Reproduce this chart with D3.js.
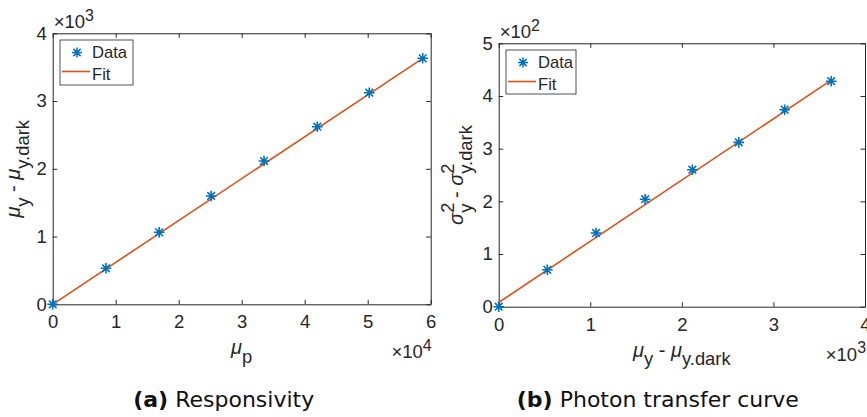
<!DOCTYPE html>
<html>
<head>
<meta charset="utf-8">
<script src="https://cdn.jsdelivr.net/npm/d3@7"></script>
<style>
  html, body { margin: 0; padding: 0; background: #fff; }
  svg { display: block; }
</style>
</head>
<body>
<svg id="fig" width="867" height="417"></svg>
<script>
// ---- data -------------------------------------------------------------
// (a) responsivity: mean photons per pixel vs. dark-corrected mean signal
const muP     = [0, 8460, 16900, 25150, 33540, 42000, 50250, 58730];
const muYDark = [0, 531, 1063, 1599, 2115, 2621, 3123, 3631];
// (b) photon transfer: dark-corrected variance vs. dark-corrected mean
const varYDark = [0, 70, 140, 204, 260, 312, 374, 428];
// fitted straight lines (end points)
const fitAx = [0, 58730], fitAy = [0, 3631];
const fitBx = [0, 3631],  fitBy = [8, 430];
// axis ticks (in scaled units) and their exponents
const ticksAx = [0, 1, 2, 3, 4, 5, 6],  expAx = 4;
const ticksAy = [0, 1, 2, 3, 4],        expAy = 3;
const ticksBx = [0, 1, 2, 3, 4],        expBx = 3;
const ticksBy = [0, 1, 2, 3, 4, 5],     expBy = 2;
const legendLabels = ["Data", "Fit"];

// ---- style ------------------------------------------------------------
const C_DATA = "#0072BD", C_FIT = "#D95319", C_AX = "#262626";
const FONT = '"Liberation Sans", Arial, sans-serif';
const FS_TICK = 18.5, FS_LEG = 16.6, FS_LAB = 20;
const TICK = 4.5;

const svg = d3.select("#fig");

function starPath(r) {
  const d = r * 0.72;
  return `M${-r},0L${r},0M0,${-r}L0,${r}M${-d},${-d}L${d},${d}M${-d},${d}L${d},${-d}`;
}

// rich text: parts = [[text, kind, italic?], ...]; kind: n | sub | sup | subStack
// (subStack sits under the preceding superscript)
function rich(g, parts, size, subScale, shifts) {
  const t = g.append("text").attr("font-family", FONT).attr("font-size", size).attr("fill", C_AX);
  let shift = 0, lastSup = null;
  parts.forEach(([s, kind, it]) => {
    const target = kind === "n" ? 0 : kind === "sup" ? -shifts.sup : shifts.sub;
    const ts = t.append("tspan").text(s).attr("dy", target - shift);
    if (kind !== "n") ts.attr("font-size", size * subScale);
    if (it) ts.attr("font-style", "italic");
    if (kind === "subStack" && lastSup) ts.attr("dx", -lastSup.node().getComputedTextLength());
    lastSup = kind === "sup" ? ts : null;
    shift = target;
  });
  return t;
}

function panel(o) {
  const x = d3.scaleLinear([0, o.xTicks[o.xTicks.length - 1] * 10 ** o.xExp], [o.x0, o.x1]);
  const y = d3.scaleLinear([0, o.yTicks[o.yTicks.length - 1] * 10 ** o.yExp], [o.y1, o.y0]);
  const xt = o.xTicks.map(v => v * 10 ** o.xExp), yt = o.yTicks.map(v => v * 10 ** o.yExp);
  const g = svg.append("g");

  const fmtX = v => String(Math.round(v / 10 ** o.xExp));
  const fmtY = v => String(Math.round(v / 10 ** o.yExp));

  const axes = [
    [d3.axisBottom(x).tickValues(xt).tickFormat(fmtX).tickPadding(11), 0, o.y1],
    [d3.axisTop(x).tickValues(xt).tickFormat(""), 0, o.y0],
    [d3.axisLeft(y).tickValues(yt).tickFormat(fmtY).tickPadding(6), o.x0, 0],
    [d3.axisRight(y).tickValues(yt).tickFormat(""), o.x1, 0]
  ];
  axes.forEach(([ax, tx, ty]) => {
    const a = g.append("g").attr("transform", `translate(${tx},${ty})`)
      .call(ax.tickSizeInner(-TICK).tickSizeOuter(0));
    a.attr("font-family", FONT).attr("font-size", FS_TICK);
    a.select(".domain").attr("stroke", C_AX);
    a.selectAll(".tick line").attr("stroke", C_AX);
    a.selectAll(".tick text").attr("fill", C_AX);
  });

  // fit line and data markers
  g.append("line")
    .attr("x1", x(o.fitX[0])).attr("y1", y(o.fitY[0]))
    .attr("x2", x(o.fitX[1])).attr("y2", y(o.fitY[1]))
    .attr("stroke", C_FIT).attr("stroke-width", 1.6);
  g.selectAll(".pt").data(o.px.map((v, i) => [v, o.py[i]])).join("path")
    .attr("transform", d => `translate(${x(d[0])},${y(d[1])})`)
    .attr("d", starPath(5.3)).attr("stroke", C_DATA).attr("stroke-width", 1.6).attr("fill", "none");

  // legend
  const L = o.legend;
  g.append("rect").attr("x", L.x).attr("y", L.y).attr("width", L.w).attr("height", L.h)
    .attr("fill", "#fff").attr("stroke", C_AX).attr("stroke-width", 0.8);
  g.append("path").attr("transform", `translate(${L.x + 17},${L.y + 12.5})`)
    .attr("d", starPath(5)).attr("stroke", C_DATA).attr("stroke-width", 1.5).attr("fill", "none");
  g.append("line").attr("x1", L.x + 2).attr("x2", L.x + 30).attr("y1", L.y + 31.5).attr("y2", L.y + 31.5)
    .attr("stroke", C_FIT).attr("stroke-width", 1.6);
  legendLabels.forEach((s, i) => {
    g.append("text").attr("x", L.x + 32).attr("y", L.y + 18 + i * 21.5).text(s)
      .attr("font-family", FONT).attr("font-size", FS_LEG).attr("fill", C_AX);
  });

  // exponent labels
  const expShift = { sup: 7.5, sub: 0 };
  rich(g, [["\u00d710", "n"], [String(o.yExp), "sup"]], FS_TICK, 0.86, expShift)
    .attr("x", o.x0 + 1).attr("y", o.y0 - 5);
  rich(g, [["\u00d710", "n"], [String(o.xExp), "sup"]], FS_TICK, 0.86, expShift)
    .attr("x", o.x1 + 1).attr("y", o.y1 + 54).attr("text-anchor", "end");

  // axis titles
  const labShift = { sup: 9, sub: 8.5 };
  rich(g, o.xLabel, FS_LAB, 0.92, labShift).attr("x", (o.x0 + o.x1) / 2).attr("y", o.y1 + 50)
    .attr("text-anchor", "middle");
  rich(g, o.yLabel, FS_LAB, 0.92, labShift).attr("text-anchor", "middle")
    .attr("transform", `translate(${o.yLabelX},${(o.y0 + o.y1) / 2}) rotate(-90)`);

  // caption
  const cap = svg.append("text").attr("x", (o.x0 + o.x1) / 2 + o.capDx).attr("y", 407)
    .attr("text-anchor", "middle").attr("font-family", '"DejaVu Sans", sans-serif').attr("font-size", 22)
    .attr("fill", "#111");
  cap.append("tspan").attr("font-weight", "bold").text(o.capTag);
  cap.append("tspan").text(" " + o.capText);
}

panel({
  x0: 52.7, x1: 430.7, y0: 33.3, y1: 304.3,
  xTicks: ticksAx, xExp: expAx, yTicks: ticksAy, yExp: expAy,
  px: muP, py: muYDark, fitX: fitAx, fitY: fitAy,
  legend: { x: 60, y: 40, w: 73, h: 45 },
  xLabel: [["\u03bc", "n", true], ["p", "sub"]],
  yLabel: [["\u03bc", "n", true], ["y", "sub"], [" - ", "n"], ["\u03bc", "n", true], ["y.dark", "sub"]],
  yLabelX: 20,
  capTag: "(a)", capText: "Responsivity", capDx: -18
});

panel({
  x0: 498.7, x1: 865, y0: 43.3, y1: 306.7,
  xTicks: ticksBx, xExp: expBx, yTicks: ticksBy, yExp: expBy,
  px: muYDark, py: varYDark, fitX: fitBx, fitY: fitBy,
  legend: { x: 506, y: 50, w: 70, h: 44 },
  xLabel: [["\u03bc", "n", true], ["y", "sub"], [" - ", "n"], ["\u03bc", "n", true], ["y.dark", "sub"]],
  yLabel: [["\u03c3", "n", true], ["2", "sup"], ["y", "subStack"], [" - ", "n"],
           ["\u03c3", "n", true], ["2", "sup"], ["y.dark", "subStack"]],
  yLabelX: 463,
  capTag: "(b)", capText: "Photon transfer curve", capDx: -24
});
</script>
</body>
</html>
